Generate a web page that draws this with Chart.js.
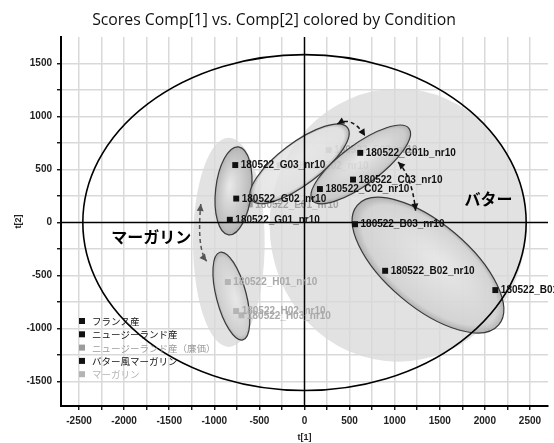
<!DOCTYPE html>
<html>
<head>
<meta charset="utf-8">
<script src="https://cdn.jsdelivr.net/npm/chart.js@4.4.0/dist/chart.umd.min.js"></script>
<style>
  html, body { margin: 0; padding: 0; background: #fff; }
</style>
</head>
<body>
<canvas id="scoreChart" width="554" height="443"></canvas>
<script>
var chartTitle = 'Scores Comp[1] vs. Comp[2] colored by Condition';

// legend groups
var groups = ['フランス産', 'ニュージーランド産', 'ニュージーランド産（廉価）', 'バター風マーガリン', 'マーガリン'];
var groupColors = ['#111111', '#111111', '#9c9c9c', '#111111', '#b4b4b4'];

// scores t[1], t[2]
var franceNames = ['180522_B03_nr10', '180522_B02_nr10', '180522_B01_nr10'];
var franceT1 = [560, 894, 2116];
var franceT2 = [-16, -455, -637];

var nzNames = ['180522_C01b_nr10', '180522_C03_nr10', '180522_C02_nr10'];
var nzT1 = [618, 538, 171];
var nzT2 = [657, 405, 316];

var cheapNames = ['180522_E03_nr10', '180522_E02_nr10', '180522_E01_nr10'];
var cheapT1 = [268, -276, -607];
var cheapT2 = [683, 540, 171];

var butterLikeNames = ['180522_G03_nr10', '180522_G02_nr10', '180522_G01_nr10'];
var butterLikeT1 = [-768, -757, -828];
var butterLikeT2 = [542, 226, 26];

var margarineNames = ['180522_H01_nr10', '180522_H02_nr10', '180522_H03_nr10'];
var margarineT1 = [-850, -758, -699];
var margarineT2 = [-561, -835, -875];

var xTicks = [-2500, -2000, -1500, -1000, -500, 0, 500, 1000, 1500, 2000, 2500];
var yTicks = [-1500, -1000, -500, 0, 500, 1000, 1500];
var minorStep = 250;

// ellipses: centre t1, centre t2, semi axis a, semi axis b (t[1] units), angle deg
var hotelling = [0, 0, 2458, 1862, 0];
var regionEllipses = [
  [-839, -186, 1160, 397, 90],
  [1037, -25, 1424, 1513, 0]
];
var groupEllipses = [
  [-787, 299, 491, 199, -83.6, 'rgba(182,182,182,0.85)'],
  [-55, 554, 666, 232, -37, 'rgba(224,224,224,0.8)'],
  [624, 548, 667, 221, -36.6, 'rgba(198,198,198,0.82)'],
  [1369, -402, 1027, 464, 40.2, 'rgba(208,208,208,0.8)'],
  [-811, -693, 502, 166, 75.4, 'rgba(202,202,202,0.82)']
];

// dashed arrows: start, control, end (t1,t2)
var arrows = [
  [-1150, 175, -1195, -250, -1085, -365, '#555555'],
  [364, 930, 530, 1010, 672, 815, '#111111'],
  [1037, 570, 1190, 440, 1232, 112, '#111111']
];

var notes = ['バター', 'マーガリン'];
var noteT1 = [2040, -1700];
var noteT2 = [220, -135];

function makeSet(label, t1, t2, names, color, textColor, order) {
  return {
    label: label,
    data: t1.map(function (v, i) { return { x: v, y: t2[i] }; }),
    names: names,
    textColor: textColor,
    order: order,
    pointStyle: 'rect',
    pointRadius: 4.2,
    pointBorderWidth: 0,
    backgroundColor: color,
    borderColor: color
  };
}

function kx(chart) {
  var x = chart.scales.x;
  return Math.abs(x.getPixelForValue(1000) - x.getPixelForValue(0)) / 1000;
}

function ellipsePath(ctx, chart, e) {
  var k = kx(chart);
  ctx.beginPath();
  ctx.ellipse(chart.scales.x.getPixelForValue(e[0]), chart.scales.y.getPixelForValue(e[1]),
    e[2] * k, e[3] * k, e[4] * Math.PI / 180, 0, Math.PI * 2);
}

function shadedEllipse(ctx, chart, e) {
  var k = kx(chart);
  ctx.save();
  ctx.translate(chart.scales.x.getPixelForValue(e[0]), chart.scales.y.getPixelForValue(e[1]));
  ctx.rotate(e[4] * Math.PI / 180);
  ctx.scale(e[2] * k, e[3] * k);
  var g = ctx.createRadialGradient(0.1, -0.25, 0.05, 0, 0, 1);
  g.addColorStop(0, 'rgba(232,232,232,0.8)');
  g.addColorStop(0.88, e[5]);
  g.addColorStop(1, 'rgba(168,168,168,0.85)');
  ctx.beginPath();
  ctx.arc(0, 0, 1, 0, Math.PI * 2);
  ctx.fillStyle = g;
  ctx.fill();
  ctx.restore();
  ctx.save();
  ellipsePath(ctx, chart, e);
  ctx.strokeStyle = '#3a3a3a';
  ctx.lineWidth = 1.2;
  ctx.stroke();
  ctx.restore();
}

function arrowHead(ctx, x, y, fx, fy, color) {
  var ang = Math.atan2(y - fy, x - fx);
  ctx.save();
  ctx.translate(x, y);
  ctx.rotate(ang);
  ctx.beginPath();
  ctx.moveTo(0, 0);
  ctx.lineTo(-7, -3.5);
  ctx.lineTo(-7, 3.5);
  ctx.closePath();
  ctx.fillStyle = color;
  ctx.fill();
  ctx.restore();
}

function drawArrow(ctx, chart, a) {
  var x = chart.scales.x, y = chart.scales.y;
  var p0 = [x.getPixelForValue(a[0]), y.getPixelForValue(a[1])];
  var pc = [x.getPixelForValue(a[2]), y.getPixelForValue(a[3])];
  var p1 = [x.getPixelForValue(a[4]), y.getPixelForValue(a[5])];
  ctx.save();
  ctx.strokeStyle = a[6];
  ctx.lineWidth = 1.5;
  ctx.setLineDash([4, 3]);
  ctx.beginPath();
  ctx.moveTo(p0[0], p0[1]);
  ctx.quadraticCurveTo(pc[0], pc[1], p1[0], p1[1]);
  ctx.stroke();
  ctx.setLineDash([]);
  arrowHead(ctx, p0[0], p0[1], pc[0], pc[1], a[6]);
  arrowHead(ctx, p1[0], p1[1], pc[0], pc[1], a[6]);
  ctx.restore();
}

var overlayDone = false;

function drawOverlay(chart) {
  var ctx = chart.ctx, area = chart.chartArea;
  groupEllipses.forEach(function (e) { shadedEllipse(ctx, chart, e); });
  // origin lines
  var x0 = chart.scales.x.getPixelForValue(0), y0 = chart.scales.y.getPixelForValue(0);
  ctx.save();
  ctx.strokeStyle = '#000';
  ctx.lineWidth = 1.5;
  ctx.beginPath();
  ctx.moveTo(area.left, y0); ctx.lineTo(area.right, y0);
  ctx.moveTo(x0, area.top); ctx.lineTo(x0, area.bottom);
  ctx.stroke();
  ellipsePath(ctx, chart, hotelling);
  ctx.lineWidth = 1.6;
  ctx.stroke();
  ctx.restore();
  arrows.forEach(function (a) { drawArrow(ctx, chart, a); });
}

var scorePlugin = {
  id: 'scorePlugin',
  beforeDraw: function (chart) {
    var ctx = chart.ctx;
    ctx.save();
    ctx.fillStyle = '#e2e2e2';
    regionEllipses.forEach(function (e) { ellipsePath(ctx, chart, e); ctx.fill(); });
    ctx.restore();
  },
  beforeDatasetsDraw: function () { overlayDone = false; },
  beforeDatasetDraw: function (chart, args) {
    if (!overlayDone && chart.data.datasets[args.index].order === 0) {
      drawOverlay(chart);
      overlayDone = true;
    }
  },
  afterDatasetDraw: function (chart, args) {
    var ds = chart.data.datasets[args.index];
    var ctx = chart.ctx;
    ctx.save();
    ctx.font = 'bold 10px "Liberation Sans", Arial, sans-serif';
    ctx.fillStyle = ds.textColor;
    ctx.textBaseline = 'middle';
    args.meta.data.forEach(function (pt, i) {
      ctx.fillText(ds.names[i], pt.x + 5.5, pt.y + 0.5);
    });
    ctx.restore();
  },
  afterDatasetsDraw: function (chart) {
    var ctx = chart.ctx;
    ctx.save();
    ctx.font = 'bold 16px "Noto Sans CJK JP", sans-serif';
    ctx.fillStyle = '#000';
    ctx.textAlign = 'center';
    ctx.textBaseline = 'middle';
    notes.forEach(function (t, i) {
      ctx.fillText(t, chart.scales.x.getPixelForValue(noteT1[i]), chart.scales.y.getPixelForValue(noteT2[i]));
    });
    // legend
    var lx = chart.chartArea.left + 21, ly = chart.chartArea.bottom - 85;
    ctx.font = '9.5px "Noto Sans CJK JP", sans-serif';
    ctx.textAlign = 'left';
    groups.forEach(function (g, i) {
      var yy = ly + i * 13.3;
      ctx.fillStyle = groupColors[i];
      ctx.fillRect(lx - 3, yy - 3, 6, 6);
      ctx.fillText(g, lx + 10, yy + 0.5);
    });
    ctx.restore();
  }
};

function minorTicks(scale) {
  var list = [];
  var start = Math.ceil(scale.min / minorStep) * minorStep;
  for (var v = start; v <= scale.max; v += minorStep) {
    if (v > scale.min && v < scale.max) list.push({ value: v });
  }
  scale.ticks = list;
}

function gridColor(c) {
  var v = c.tick ? c.tick.value : null;
  if (v === null || v === 0) return 'rgba(0,0,0,0)';
  return '#d9d9d9';
}

var tickFont = { family: '"Liberation Sans", Arial, sans-serif', size: 10, weight: 'bold' };
var titleFont = { family: '"Liberation Sans", Arial, sans-serif', size: 9, weight: 'bold' };

new Chart(document.getElementById('scoreChart'), {
  type: 'scatter',
  data: {
    datasets: [
      makeSet(groups[0], franceT1, franceT2, franceNames, groupColors[0], '#111', 0),
      makeSet(groups[1], nzT1, nzT2, nzNames, groupColors[1], '#111', 0),
      makeSet(groups[2], cheapT1, cheapT2, cheapNames, groupColors[2], '#a4a4a4', 1),
      makeSet(groups[3], butterLikeT1, butterLikeT2, butterLikeNames, groupColors[3], '#111', 0),
      makeSet(groups[4], margarineT1, margarineT2, margarineNames, groupColors[4], '#a9a9a9', 0)
    ]
  },
  options: {
    responsive: false,
    animation: false,
    layout: { padding: { top: 0, right: 6, left: 0, bottom: 0 } },
    plugins: {
      legend: { display: false },
      tooltip: { enabled: false },
      title: {
        display: true,
        text: chartTitle,
        color: '#111',
        font: { family: '"Open Sans", sans-serif', size: 15.8, weight: 'normal' },
        padding: { top: 11, bottom: 7 }
      }
    },
    scales: {
      x: {
        type: 'linear',
        min: -2700,
        max: 2700,
        afterBuildTicks: minorTicks,
        afterFit: function (s) { s.height = 37; },
        border: { color: '#000', width: 2 },
        grid: { color: gridColor, lineWidth: 1.5, tickColor: '#000', tickLength: 4, tickWidth: 1.3 },
        ticks: {
          autoSkip: false,
          maxRotation: 0,
          padding: 5,
          color: '#222',
          font: tickFont,
          callback: function (v) { return xTicks.indexOf(v) >= 0 ? String(v) : ''; }
        },
        title: { display: true, text: 't[1]', color: '#222', font: titleFont, padding: { top: 0, bottom: 0 } }
      },
      y: {
        type: 'linear',
        min: -1730,
        max: 1750,
        afterBuildTicks: minorTicks,
        afterFit: function (s) { s.width = 61; },
        border: { color: '#000', width: 2 },
        grid: { color: gridColor, lineWidth: 1.5, tickColor: '#000', tickLength: 4, tickWidth: 1.3 },
        ticks: {
          autoSkip: false,
          padding: 5,
          color: '#222',
          font: tickFont,
          callback: function (v) { return yTicks.indexOf(v) >= 0 ? String(v) : ''; }
        },
        title: { display: true, text: 't[2]', color: '#222', font: titleFont, padding: { top: 13, bottom: 0 } }
      }
    }
  },
  plugins: [scorePlugin]
});
</script>
</body>
</html>
